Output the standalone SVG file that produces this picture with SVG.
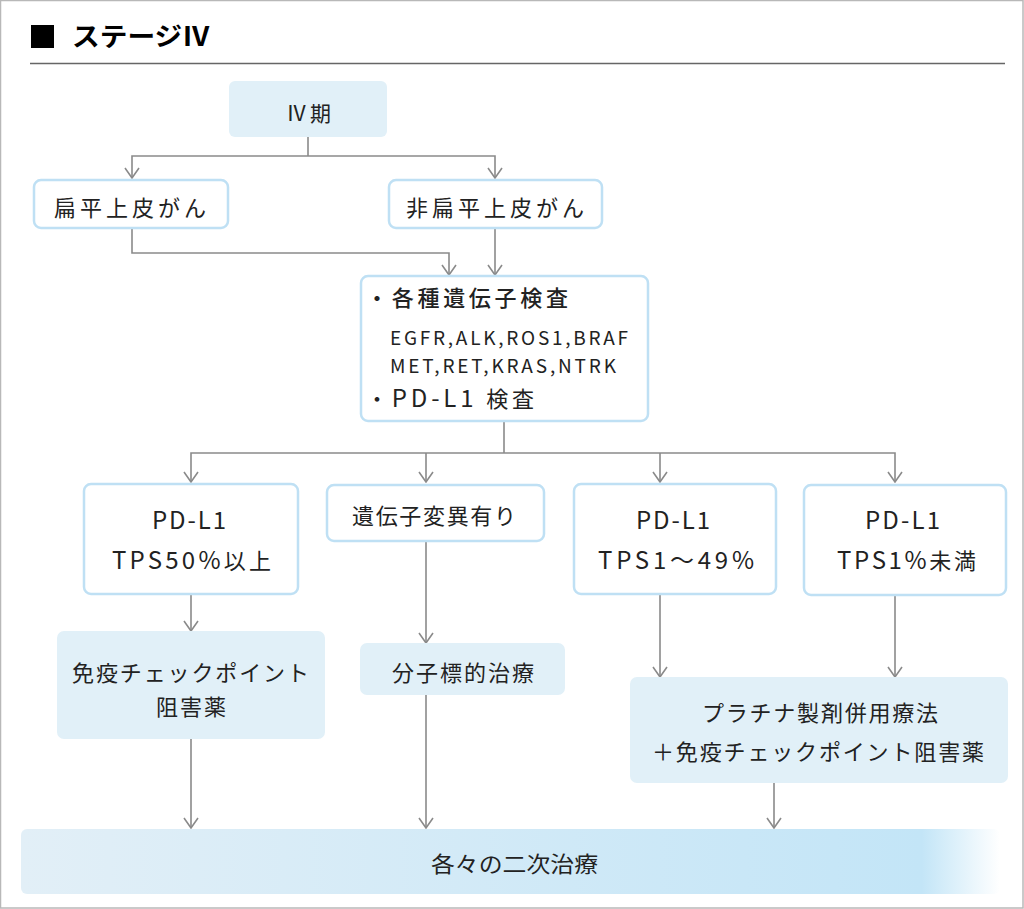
<svg xmlns="http://www.w3.org/2000/svg" width="1024" height="909" viewBox="0 0 1024 909">
<defs>
<style>
text{font-family:"Noto Sans CJK JP","Noto Sans",sans-serif;fill:#222;}
.t{font-size:22px;}
.l{font-size:24px;}
.s{font-size:19px;}
.box{fill:#fff;stroke:#bfe0f4;stroke-width:2.5;}
.fill{fill:#e1f0f8;}
.ln{fill:none;stroke:#8a8a8a;stroke-width:1.6;}
</style>
<marker id="ar" viewBox="0 0 12 16" refX="11" refY="8" markerWidth="12" markerHeight="16" markerUnits="userSpaceOnUse" orient="auto-start-reverse">
<path d="M1,1 L11,8 L1,15" fill="none" stroke="#8a8a8a" stroke-width="1.6"/>
</marker>
<linearGradient id="bg" x1="0" y1="0" x2="1" y2="0">
<stop offset="0" stop-color="#e2eff7"/>
<stop offset="0.92" stop-color="#c3e5f7"/>
<stop offset="1" stop-color="#ffffff"/>
</linearGradient>
</defs>
<rect x="0.5" y="0.5" width="1022.5" height="907.5" fill="#fff" stroke="#b8b8b8" stroke-width="1.5"/>
<g id="title">
<rect x="31" y="25" width="23" height="23" fill="#000"/>
<text x="72" y="46" font-size="26" font-weight="bold" textLength="138" lengthAdjust="spacingAndGlyphs" style="fill:#000">ステージⅣ</text>
<line x1="30" y1="63.5" x2="1005" y2="63.5" stroke="#666" stroke-width="1.5"/>
</g>
<g id="connectors">
<polyline class="ln" points="308,137 308,156"/>
<polyline class="ln" points="132,178 132,156 495,156 495,178" marker-start="url(#ar)" marker-end="url(#ar)"/>
<polyline class="ln" points="132,229 132,253 449,253 449,275" marker-end="url(#ar)"/>
<polyline class="ln" points="495,229 495,275" marker-end="url(#ar)"/>
<polyline class="ln" points="504,421 504,453"/>
<polyline class="ln" points="191,482 191,453 895,453 895,482" marker-start="url(#ar)" marker-end="url(#ar)"/>
<polyline class="ln" points="426,453 426,482" marker-end="url(#ar)"/>
<polyline class="ln" points="660,453 660,482" marker-end="url(#ar)"/>
<polyline class="ln" points="191,595 191,631" marker-end="url(#ar)"/>
<polyline class="ln" points="426,542 426,643" marker-end="url(#ar)"/>
<polyline class="ln" points="660,595 660,677" marker-end="url(#ar)"/>
<polyline class="ln" points="895,596 895,677" marker-end="url(#ar)"/>
<polyline class="ln" points="191,739 191,828" marker-end="url(#ar)"/>
<polyline class="ln" points="426,695 426,828" marker-end="url(#ar)"/>
<polyline class="ln" points="774,783 774,828" marker-end="url(#ar)"/>
</g>
<g id="n-stage4">
<rect class="fill" x="229" y="81" width="158" height="56" rx="6"/>
<text x="286" y="121" font-size="21" textLength="45" lengthAdjust="spacing">Ⅳ期</text>
</g>
<g id="n-squamous">
<rect class="box" x="34" y="180" width="194" height="48" rx="7"/>
<text class="t" x="54" y="216" textLength="152" lengthAdjust="spacing">扁平上皮がん</text>
</g>
<g id="n-nonsquamous">
<rect class="box" x="389" y="180" width="213" height="48" rx="7"/>
<text class="t" x="406" y="216" textLength="178" lengthAdjust="spacing">非扁平上皮がん</text>
</g>
<g id="n-tests">
<rect class="box" x="361" y="276" width="287" height="145" rx="7"/>
<text class="t" x="366" y="306" textLength="202" lengthAdjust="spacing" font-weight="500">・各種遺伝子検査</text>
<text class="s" x="390" y="345" textLength="238" lengthAdjust="spacing">EGFR,ALK,ROS1,BRAF</text>
<text class="s" x="390" y="373" textLength="226" lengthAdjust="spacing">MET,RET,KRAS,NTRK</text>
<text class="t" x="366" y="407" textLength="168" lengthAdjust="spacing">・<tspan font-size="24">PD-L1</tspan> 検査</text>
</g>
<g id="n-tps50">
<rect class="box" x="84" y="484" width="214" height="110" rx="7"/>
<text class="l" x="152" y="529" textLength="74" lengthAdjust="spacing">PD-L1</text>
<text class="t" x="112" y="569" textLength="159" lengthAdjust="spacing"><tspan font-size="24">TPS50%</tspan>以上</text>
</g>
<g id="n-mutation">
<rect class="box" x="327" y="485" width="217" height="56" rx="7"/>
<text class="t" x="352" y="524" textLength="164" lengthAdjust="spacing">遺伝子変異有り</text>
</g>
<g id="n-tps1-49">
<rect class="box" x="574" y="484" width="202" height="110" rx="7"/>
<text class="l" x="636" y="529" textLength="74" lengthAdjust="spacing">PD-L1</text>
<text class="l" x="598" y="569" textLength="156" lengthAdjust="spacing">TPS1～49%</text>
</g>
<g id="n-tps1">
<rect class="box" x="804" y="485" width="202" height="110" rx="7"/>
<text class="l" x="865" y="529" textLength="75" lengthAdjust="spacing">PD-L1</text>
<text class="t" x="837" y="569" textLength="139" lengthAdjust="spacing"><tspan font-size="24">TPS1%</tspan>未満</text>
</g>
<g id="n-ici">
<rect class="fill" x="57" y="631" width="268" height="108" rx="7"/>
<text class="t" x="72" y="681" textLength="237" lengthAdjust="spacing">免疫チェックポイント</text>
<text class="t" x="156" y="715" textLength="70" lengthAdjust="spacing">阻害薬</text>
</g>
<g id="n-targeted">
<rect class="fill" x="360" y="643" width="205" height="52" rx="7"/>
<text class="t" x="392" y="681" textLength="142" lengthAdjust="spacing">分子標的治療</text>
</g>
<g id="n-platinum">
<rect class="fill" x="630" y="677" width="378" height="106" rx="7"/>
<text class="t" x="702" y="721" textLength="236" lengthAdjust="spacing">プラチナ製剤併用療法</text>
<text class="t" x="652" y="760" textLength="332" lengthAdjust="spacing">＋免疫チェックポイント阻害薬</text>
</g>
<g id="n-second">
<rect x="21" y="829" width="979" height="65" rx="6" fill="url(#bg)"/>
<text x="431" y="872" font-size="22" textLength="167" lengthAdjust="spacingAndGlyphs">各々の二次治療</text>
</g>
</svg>
